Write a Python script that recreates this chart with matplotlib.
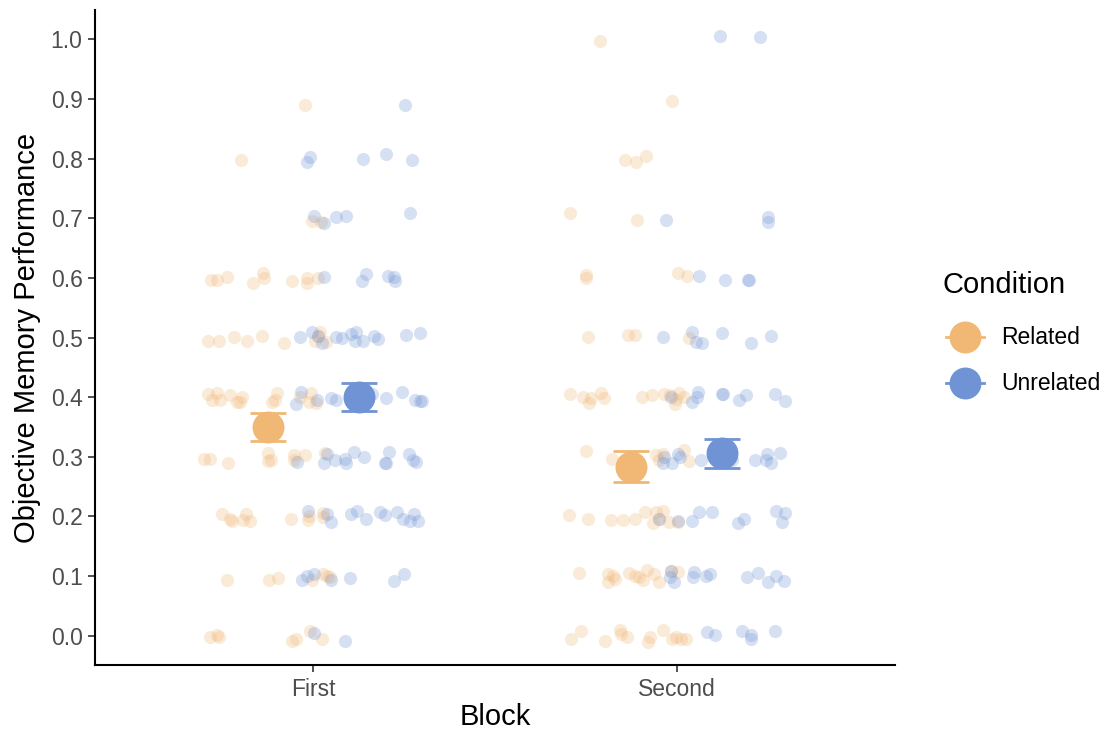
import matplotlib
matplotlib.use('Agg')
import matplotlib.pyplot as plt
from matplotlib.lines import Line2D

plt.rcParams['font.family'] = ['Liberation Sans', 'DejaVu Sans']

# ── Data ───────────────────────────────────────────────────────
blocks = ['First', 'Second']
conditions = ['Related', 'Unrelated']

# jittered individual scores, First block
first_related_x = [0.977, 0.802, 0.996, 1.021,
                   0.719, 0.735, 0.763, 0.863, 0.865, 0.835, 0.941, 0.984, 0.984, 1.014,
                   0.712, 0.742, 0.783, 0.817, 0.860, 0.920, 1.018, 1.005, 1.035, 1.014,
                   0.712, 0.735, 0.721, 0.744, 0.772, 0.790, 0.804, 0.799, 0.886, 0.901,
                   0.895, 0.964, 0.993, 0.989, 1.007,
                   0.700, 0.717, 0.767, 0.875, 0.877, 0.884, 0.947, 0.947, 0.977, 1.032,
                   0.749, 0.772, 0.776, 0.808, 0.815, 0.825, 0.938, 0.986, 0.989, 1.027, 1.027,
                   0.763, 0.879, 0.904, 0.996, 1.027, 1.038, 1.046,
                   0.717, 0.735, 0.740, 0.941, 0.954, 0.991, 1.023]
first_related_y = [0.889, 0.797, 0.695, 0.694,
                   0.596, 0.597, 0.601, 0.608, 0.600, 0.591, 0.594, 0.599, 0.592, 0.600,
                   0.494, 0.494, 0.501, 0.495, 0.503, 0.490, 0.509, 0.495, 0.493, 0.502,
                   0.406, 0.407, 0.396, 0.396, 0.403, 0.392, 0.400, 0.392, 0.392, 0.407,
                   0.396, 0.400, 0.407, 0.392, 0.390,
                   0.297, 0.297, 0.289, 0.306, 0.293, 0.294, 0.303, 0.295, 0.303, 0.306,
                   0.205, 0.195, 0.192, 0.194, 0.204, 0.192, 0.195, 0.194, 0.200, 0.206, 0.199,
                   0.093, 0.094, 0.097, 0.093, 0.104, 0.101, 0.099,
                   -0.002, 0.001, -0.002, -0.008, -0.005, 0.008, -0.005]

first_unrelated_x = [1.253,
                     0.991, 0.984, 1.137, 1.201, 1.271,
                     1.002, 1.029, 1.064, 1.089, 1.267,
                     1.029, 1.146, 1.135, 1.206, 1.221, 1.224,
                     0.964, 0.998, 1.014, 1.023, 1.064, 1.078, 1.105, 1.119, 1.114, 1.137,
                     1.166, 1.178, 1.254, 1.293,
                     0.966, 0.953, 1.010, 1.050, 1.064, 1.106, 1.145, 1.163, 1.201, 1.244,
                     1.279, 1.293, 1.300,
                     0.955, 1.037, 1.029, 1.061, 1.087, 1.090, 1.112, 1.140, 1.208, 1.197,
                     1.199, 1.263, 1.274, 1.284,
                     0.986, 1.038, 1.050, 1.105, 1.121, 1.146, 1.185, 1.197, 1.231, 1.247,
                     1.265, 1.276, 1.288,
                     0.968, 0.982, 1.002, 1.048, 1.101, 1.222, 1.250,
                     1.002, 1.087]
first_unrelated_y = [0.889,
                     0.802, 0.794, 0.799, 0.807, 0.798,
                     0.703, 0.692, 0.702, 0.703, 0.709,
                     0.601, 0.606, 0.595, 0.603, 0.602, 0.595,
                     0.501, 0.509, 0.502, 0.491, 0.501, 0.500, 0.506, 0.509, 0.494, 0.494,
                     0.502, 0.498, 0.504, 0.507,
                     0.409, 0.389, 0.396, 0.398, 0.395, 0.402, 0.397, 0.406, 0.399, 0.409,
                     0.395, 0.394, 0.394,
                     0.291, 0.304, 0.290, 0.294, 0.297, 0.290, 0.308, 0.300, 0.308, 0.290,
                     0.289, 0.304, 0.295, 0.291,
                     0.209, 0.204, 0.191, 0.205, 0.209, 0.196, 0.207, 0.202, 0.207, 0.196,
                     0.192, 0.205, 0.192,
                     0.094, 0.101, 0.104, 0.094, 0.097, 0.092, 0.103,
                     0.005, -0.008]

# jittered individual scores, Second block
second_related_x = [1.790, 1.986, 1.858, 1.889, 1.915, 1.707, 1.890,
                    1.749, 1.750, 2.002, 2.029,
                    1.755, 1.867, 1.886, 2.034,
                    1.705, 1.743, 1.758, 1.764, 1.792, 1.801, 1.904, 1.931, 1.965, 1.981,
                    1.995, 2.006, 1.997, 2.020,
                    1.750, 1.823, 1.855, 1.942, 1.950, 1.961, 2.020, 2.034,
                    1.703, 1.756, 1.818, 1.851, 1.885, 1.913, 1.943, 1.962, 1.935, 1.951,
                    1.979, 2.002,
                    1.732, 1.810, 1.812, 1.825, 1.831, 1.869, 1.884, 1.897, 1.908, 1.918,
                    1.938, 1.951, 1.985, 2.004,
                    1.709, 1.737, 1.803, 1.845, 1.864, 1.847, 1.920, 1.927, 1.962, 1.988,
                    1.997, 2.011, 2.025]
second_related_y = [0.997, 0.896, 0.798, 0.794, 0.804, 0.708, 0.697,
                    0.604, 0.599, 0.609, 0.603,
                    0.501, 0.505, 0.505, 0.500,
                    0.406, 0.400, 0.390, 0.398, 0.407, 0.398, 0.400, 0.403, 0.406, 0.403,
                    0.389, 0.407, 0.397, 0.400,
                    0.309, 0.297, 0.291, 0.303, 0.294, 0.304, 0.311, 0.293,
                    0.202, 0.196, 0.194, 0.194, 0.195, 0.208, 0.208, 0.209, 0.189, 0.195,
                    0.191, 0.191,
                    0.105, 0.103, 0.090, 0.101, 0.096, 0.105, 0.101, 0.098, 0.093, 0.110,
                    0.104, 0.090, 0.108, 0.107,
                    -0.006, 0.008, -0.008, 0.009, -0.002, 0.003, -0.010, -0.002, 0.009, -0.006,
                    -0.002, -0.006, -0.005]

second_unrelated_x = [2.120, 2.228,
                      1.969, 2.251, 2.251,
                      2.061, 2.132, 2.196, 2.198,
                      1.961, 2.043, 2.052, 2.069, 2.125, 2.203, 2.260,
                      2.041, 2.059, 2.056, 2.125, 2.127, 2.171, 2.191, 2.271, 2.298, 1.984,
                      1.965, 1.961, 1.988, 2.002, 2.009, 2.067, 2.105, 2.152, 2.215, 2.249,
                      2.246, 2.258, 2.284,
                      1.951, 2.004, 2.043, 2.061, 2.096, 2.169, 2.186, 2.273, 2.298, 2.289,
                      1.985, 1.981, 1.993, 2.046, 2.045, 2.079, 2.092, 2.192, 2.224, 2.251,
                      2.274, 2.295,
                      2.084, 2.105, 2.180, 2.203, 2.203, 2.271]
second_unrelated_y = [1.005, 1.003,
                      0.697, 0.702, 0.694,
                      0.603, 0.596, 0.596, 0.597,
                      0.501, 0.509, 0.493, 0.491, 0.507, 0.491, 0.503,
                      0.392, 0.409, 0.400, 0.406, 0.405, 0.396, 0.404, 0.405, 0.394, 0.400,
                      0.300, 0.290, 0.290, 0.305, 0.300, 0.295, 0.299, 0.294, 0.294, 0.305,
                      0.295, 0.290, 0.307,
                      0.195, 0.192, 0.192, 0.208, 0.207, 0.189, 0.196, 0.209, 0.206, 0.191,
                      0.108, 0.098, 0.090, 0.107, 0.099, 0.101, 0.104, 0.098, 0.105, 0.090,
                      0.100, 0.092,
                      0.006, 0.001, 0.008, 0.002, -0.006, 0.008]

# condition means and standard errors per block
related_mean = [0.350, 0.283]
related_se = [0.023, 0.026]
unrelated_mean = [0.400, 0.306]
unrelated_se = [0.024, 0.024]

ORANGE = '#F0B775'
BLUE = '#6F93D4'
COLORS = [ORANGE, BLUE]
DODGE = 0.125

fig = plt.figure(figsize=(11.06, 7.32), dpi=100)
ax = fig.add_axes([0.0859, 0.0915, 0.7233, 0.8948])

# individual points
pt = dict(s=90, alpha=0.28, linewidths=0, zorder=2)
ax.scatter(first_related_x, first_related_y, color=ORANGE, **pt)
ax.scatter(second_related_x, second_related_y, color=ORANGE, **pt)
ax.scatter(first_unrelated_x, first_unrelated_y, color=BLUE, **pt)
ax.scatter(second_unrelated_x, second_unrelated_y, color=BLUE, **pt)

# mean +/- SE
pos = [1, 2]
for means, ses, col, off in [(related_mean, related_se, ORANGE, -DODGE),
                              (unrelated_mean, unrelated_se, BLUE, DODGE)]:
    xs = [p + off for p in pos]
    ax.errorbar(xs, means, yerr=ses, fmt='none', ecolor=col,
                elinewidth=2, capsize=13, capthick=2, zorder=3)
    ax.plot(xs, means, 'o', color=col, markersize=23, markeredgewidth=0, zorder=4)

ax.set_xlim(0.4, 2.6)
ax.set_ylim(-0.049, 1.049)
ax.set_xticks(pos)
ax.set_xticklabels(blocks)
ax.set_yticks([i / 10 for i in range(11)])
ax.set_yticklabels([f'{i / 10:.1f}' for i in range(11)])

for side in ['top', 'right']:
    ax.spines[side].set_visible(False)
for side in ['left', 'bottom']:
    ax.spines[side].set_linewidth(1.5)
    ax.spines[side].set_color('black')
ax.tick_params(axis='both', length=5, width=1.2, color='#333333',
               labelsize=16.5, labelcolor='#4D4D4D', pad=4)

ax.set_xlabel('Block', fontsize=21, labelpad=2)
ax.set_ylabel('Objective Memory Performance', fontsize=21, labelpad=7)

# legend, laid out by hand to follow the ggplot guide
fig.text(942 / 1106, 1 - 285 / 732, 'Condition', fontsize=21,
         ha='left', va='center')
key_x0, key_x1, key_xc, text_x = 946 / 1106, 984 / 1106, 965 / 1106, 1001 / 1106
for i, (lab, col) in enumerate(zip(conditions, COLORS)):
    ky = 1 - (337 + 46 * i) / 732
    fig.add_artist(Line2D([key_x0, key_x1], [ky, ky], transform=fig.transFigure,
                          color=col, linewidth=2))
    fig.add_artist(Line2D([key_xc], [ky], transform=fig.transFigure, color=col,
                          marker='o', markersize=23, markeredgewidth=0))
    fig.text(text_x, ky, lab, fontsize=16.5, ha='left', va='center')

fig.savefig('out.png', dpi=100)
